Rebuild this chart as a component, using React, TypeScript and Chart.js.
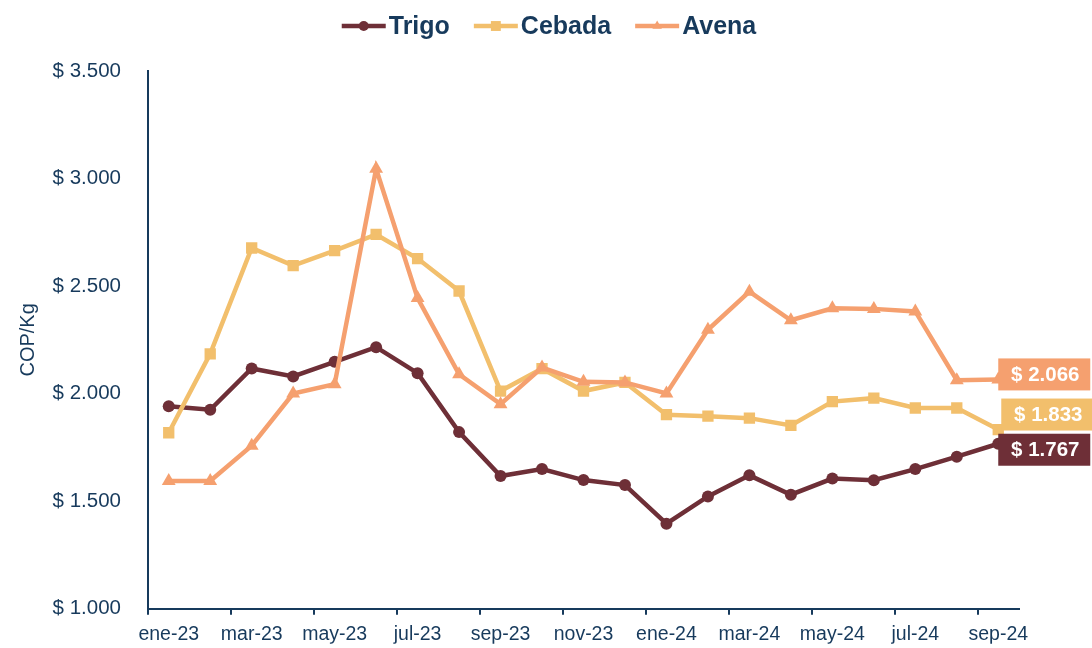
import React, { useEffect, useRef } from 'react';
import { Chart, registerables } from 'chart.js';

Chart.register(...registerables);

const months = ['ene-23', 'feb-23', 'mar-23', 'abr-23', 'may-23', 'jun-23', 'jul-23', 'ago-23', 'sep-23', 'oct-23', 'nov-23', 'dic-23', 'ene-24', 'feb-24', 'mar-24', 'abr-24', 'may-24', 'jun-24', 'jul-24', 'ago-24', 'sep-24'];
const trigo = [1941, 1925, 2117, 2080, 2148, 2216, 2095, 1821, 1617, 1649, 1598, 1575, 1395, 1522, 1620, 1530, 1605, 1597, 1649, 1707, 1767];
const cebada = [1818, 2185, 2677, 2595, 2665, 2740, 2628, 2477, 2012, 2116, 2012, 2052, 1902, 1895, 1886, 1852, 1963, 1979, 1933, 1933, 1833];
const avena = [1594, 1594, 1758, 2000, 2044, 3045, 2444, 2090, 1951, 2121, 2055, 2052, 2001, 2297, 2474, 2341, 2397, 2394, 2382, 2062, 2066];
const seriesNames = ['Trigo', 'Cebada', 'Avena'];
const yMin = 1000;
const yMax = 3500;
const yStep = 500;
const yTitle = 'COP/Kg';

const NAVY = '#173A5C';
const FONT = '"Liberation Sans", Arial, Helvetica, sans-serif';
const COLORS = ['#6E2F37', '#F2BF6C', '#F5A06F'];
const STYLES = ['circle', 'rect', 'triangle'];
const RADII = [6, 8, 8];
const LEGEND_RADII = [5, 7, 5.5];
// label box offsets relative to last point (style)
const LABEL_OFFSETS = [
  { dx: 0, dy: 6 },
  { dx: 3, dy: -15 },
  { dx: 0, dy: -5 },
];

function fmt(v: number): string {
  return '$ ' + Math.round(v).toString().replace(/\B(?=(\d{3})+(?!\d))/g, '.');
}

function drawMarker(ctx: CanvasRenderingContext2D, style: string, x: number, y: number, r: number) {
  ctx.beginPath();
  if (style === 'circle') {
    ctx.arc(x, y, r, 0, Math.PI * 2);
  } else if (style === 'rect') {
    const s = Math.SQRT1_2 * r;
    ctx.rect(x - s, y - s, 2 * s, 2 * s);
  } else {
    const h = r;
    ctx.moveTo(x, y - h);
    ctx.lineTo(x + h * Math.cos(Math.PI / 6), y + h * 0.5);
    ctx.lineTo(x - h * Math.cos(Math.PI / 6), y + h * 0.5);
    ctx.closePath();
  }
  ctx.fill();
}

const legendPlugin = {
  id: 'customLegend',
  afterDraw(chart: any) {
    const ctx: CanvasRenderingContext2D = chart.ctx;
    ctx.save();
    ctx.font = `bold 25px ${FONT}`;
    const lineW = 44;
    const gap = 3;
    const spacing = 24;
    const items = chart.data.datasets.map((ds: any, i: number) => ({ ds, i, w: ctx.measureText(ds.label).width }));
    const total = items.reduce((s: number, it: any) => s + lineW + gap + it.w, 0) + spacing * (items.length - 1);
    let x = chart.width / 2 - total / 2 + 3;
    const y = 26;
    for (const it of items) {
      ctx.strokeStyle = COLORS[it.i];
      ctx.fillStyle = COLORS[it.i];
      ctx.lineWidth = 4.5;
      ctx.beginPath();
      ctx.moveTo(x, y);
      ctx.lineTo(x + lineW, y);
      ctx.stroke();
      drawMarker(ctx, STYLES[it.i], x + lineW / 2, y, LEGEND_RADII[it.i]);
      ctx.fillStyle = NAVY;
      ctx.textBaseline = 'middle';
      ctx.textAlign = 'left';
      ctx.fillText(it.ds.label, x + lineW + gap, y + 1);
      x += lineW + gap + it.w + spacing;
    }
    ctx.restore();
  },
};

const endLabelPlugin = {
  id: 'endLabels',
  afterDatasetsDraw(chart: any) {
    const ctx: CanvasRenderingContext2D = chart.ctx;
    ctx.save();
    ctx.font = `bold 20.5px ${FONT}`;
    chart.data.datasets.forEach((ds: any, i: number) => {
      const meta = chart.getDatasetMeta(i);
      const pt = meta.data[meta.data.length - 1];
      const off = LABEL_OFFSETS[i];
      const w = 92;
      const h = 32;
      const left = pt.x + off.dx;
      const cy = pt.y + off.dy;
      ctx.fillStyle = COLORS[i];
      ctx.fillRect(left, cy - h / 2, w, h);
      ctx.fillStyle = '#FFFFFF';
      ctx.textAlign = 'center';
      ctx.textBaseline = 'middle';
      ctx.fillText(fmt(ds.data[ds.data.length - 1]), left + w / 2 + 1, cy + 1);
    });
    ctx.restore();
  },
};

export default function App() {
  const ref = useRef<HTMLCanvasElement | null>(null);

  useEffect(() => {
    if (!ref.current) return;
    const seriesData = [trigo, cebada, avena];
    const chart = new Chart(ref.current, {
      type: 'line',
      data: {
        labels: months,
        datasets: seriesNames.map((name, i) => ({
          label: name,
          data: seriesData[i],
          borderColor: COLORS[i],
          backgroundColor: COLORS[i],
          pointBackgroundColor: COLORS[i],
          pointBorderColor: COLORS[i],
          pointBorderWidth: 0,
          pointStyle: STYLES[i] as any,
          pointRadius: RADII[i],
          borderWidth: 4.5,
          tension: 0,
          fill: false,
          order: 2 - i,
        })),
      },
      options: {
        responsive: false,
        animation: false,
        devicePixelRatio: 1,
        layout: { padding: { top: 71, right: 73, left: 0, bottom: 0 } },
        plugins: {
          legend: { display: false },
          tooltip: { enabled: false },
        },
        scales: {
          x: {
            type: 'category',
            offset: true,
            afterFit: (s: any) => { s.height = 35; },
            grid: {
              offset: true,
              drawOnChartArea: false,
              drawTicks: true,
              tickLength: 6,
              lineWidth: 2,
              color: (c: any) => (c.index % 2 === 0 && c.index < months.length ? NAVY : 'rgba(0,0,0,0)'),
            },
            border: { display: true, color: NAVY, width: 2 },
            ticks: {
              autoSkip: false,
              maxRotation: 0,
              minRotation: 0,
              padding: 8,
              color: NAVY,
              font: { family: FONT, size: 19.5 },
              callback: (_v: any, idx: number) => (idx % 2 === 0 ? months[idx] : ''),
            },
          },
          y: {
            min: yMin,
            max: yMax,
            afterFit: (s: any) => { s.width = 148; },
            grid: { display: false, drawTicks: false },
            border: { display: true, color: NAVY, width: 2 },
            ticks: {
              stepSize: yStep,
              padding: 27,
              color: NAVY,
              font: { family: FONT, size: 20.5 },
              callback: (v: any) => fmt(Number(v)),
            },
            title: {
              display: true,
              text: yTitle,
              color: NAVY,
              font: { family: FONT, size: 20 },
              padding: { top: 16, bottom: 0 },
            },
          },
        },
      },
      plugins: [legendPlugin, endLabelPlugin],
    });
    return () => chart.destroy();
  }, []);

  return (
    <div style={{ position: 'fixed', left: 0, top: 0, width: 1092, height: 648, background: '#FFFFFF' }}>
      <canvas ref={ref} width={1092} height={648} style={{ width: 1092, height: 648, display: 'block' }} />
    </div>
  );
}
